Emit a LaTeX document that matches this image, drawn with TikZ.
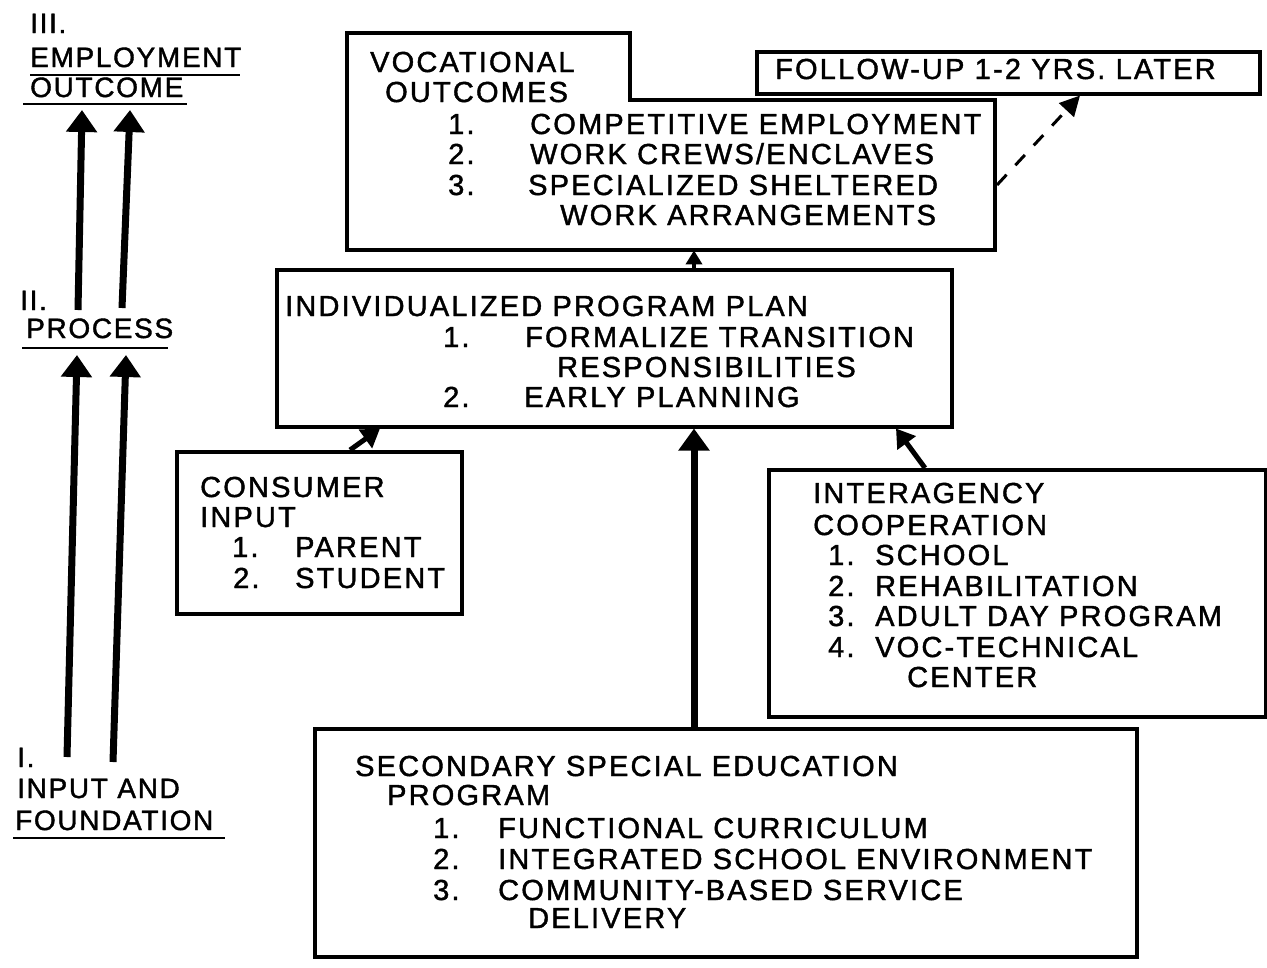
\documentclass[tikz,border=0pt]{standalone}
\usepackage{fontspec}
\newfontfamily\dfont[LetterSpace=7.5,FakeBold=1.4]{Liberation Sans}
\newfontfamily\lfont[LetterSpace=6,FakeBold=1.4]{Liberation Sans}
\usetikzlibrary{arrows.meta}
\begin{document}
\begin{tikzpicture}[x=1pt,y=-1pt,
  txt/.style={anchor=base west, inner sep=0pt, font=\dfont\fontsize{29}{32}\selectfont},
  lbl/.style={anchor=base west, inner sep=0pt, font=\lfont\fontsize{28}{30}\selectfont},
  box/.style={draw, line width=3.5pt, inner sep=0pt, anchor=north west},
  area/.style={inner sep=0pt, anchor=north west},
  uline/.style={line width=2.5pt},
  bigarrow/.style={line width=7pt, -{Triangle[width=30pt,length=22pt]}},
  midarrow/.style={line width=5pt, -{Triangle[width=22pt,length=18pt]}},
  smallarrow/.style={line width=4pt, -{Triangle[width=16pt,length=14pt]}},
  dasharrow/.style={line width=3pt, dash pattern=on 14pt off 13pt, -{Triangle[width=20pt,length=20pt]}}
]
\useasboundingbox (0,0) rectangle (1267,967);
\fill[white] (0,0) rectangle (1267,967);

% ---- left column labels ----
\node[lbl] (l3) at (30,33) {III.};
\node[lbl] (l3a) at (30,67) {EMPLOYMENT};
\node[lbl] (l3b) at (30,97) {OUTCOME};
\draw[uline] (30,75) -- (240,75);
\draw[uline] (23,104) -- (187,104);

\node[lbl] (l2) at (20,310) {II.};
\node[lbl] (l2a) at (26,338) {PROCESS};
\draw[uline] (22,348) -- (168,348);

\node[lbl] (l1) at (17,767) {I.};
\node[lbl] (l1a) at (17,798) {INPUT AND};
\node[lbl] (l1b) at (15,830) {FOUNDATION};
\draw[uline] (13,838) -- (225,838);

\coordinate (a1s) at (78,310);  \coordinate (a1e) at (82,110);
\coordinate (a2s) at (122,308); \coordinate (a2e) at (130,110);
\coordinate (a3s) at (67,757);  \coordinate (a3e) at (77,355);
\coordinate (a4s) at (113,762); \coordinate (a4e) at (126,355);
\draw[bigarrow] (a1s) -- (a1e);
\draw[bigarrow] (a2s) -- (a2e);
\draw[bigarrow] (a3s) -- (a3e);
\draw[bigarrow] (a4s) -- (a4e);

% ---- vocational outcomes (notched box) ----
\node[area, minimum width=648pt, minimum height=217pt] (voc) at (347,33) {};
\draw[line width=3.5pt] (347,33) -- (630,33) -- (630,100) -- (995,100)
  -- (995,250) -- (347,250) -- cycle;
\node[txt] at (370,72) {VOCATIONAL};
\node[txt] at (385,102) {OUTCOMES};
\node[txt] at (448,134) {1.};
\node[txt] at (530,134) {COMPETITIVE EMPLOYMENT};
\node[txt] at (448,164) {2.};
\node[txt] at (530,164) {WORK CREWS/ENCLAVES};
\node[txt] at (448,195) {3.};
\node[txt] at (528,195) {SPECIALIZED SHELTERED};
\node[txt] at (560,225) {WORK ARRANGEMENTS};

% ---- follow-up ----
\node[box, minimum width=503pt, minimum height=42pt] (follow) at (755,50) {};
\node[txt] at (775,79) {FOLLOW-UP 1-2 YRS. LATER};

% ---- individualized program plan ----
\node[box, minimum width=675pt, minimum height=157pt] (ipp) at (275,268) {};
\node[txt] at (285,316) {INDIVIDUALIZED PROGRAM PLAN};
\node[txt] at (443,347) {1.};
\node[txt] at (525,347) {FORMALIZE TRANSITION};
\node[txt] at (557,377) {RESPONSIBILITIES};
\node[txt] at (443,407) {2.};
\node[txt] at (524,407) {EARLY PLANNING};

% ---- consumer input ----
\node[box, minimum width=285pt, minimum height=162pt] (cons) at (175,450) {};
\node[txt] at (200,497) {CONSUMER};
\node[txt] at (200,527) {INPUT};
\node[txt] at (232,557) {1.};
\node[txt] at (295,557) {PARENT};
\node[txt] at (233,588) {2.};
\node[txt] at (295,588) {STUDENT};

% ---- interagency cooperation ----
\node[box, minimum width=497pt, minimum height=247pt] (inter) at (767,468) {};
\node[txt] at (813,503) {INTERAGENCY};
\node[txt] at (813,535) {COOPERATION};
\node[txt] at (828,565) {1.};
\node[txt] at (875,565) {SCHOOL};
\node[txt] at (828,596) {2.};
\node[txt] at (875,596) {REHABILITATION};
\node[txt] at (828,626) {3.};
\node[txt] at (875,626) {ADULT DAY PROGRAM};
\node[txt] at (828,657) {4.};
\node[txt] at (875,657) {VOC-TECHNICAL};
\node[txt] at (907,687) {CENTER};

% ---- secondary special education ----
\node[box, minimum width=822pt, minimum height=228pt] (sec) at (313,727) {};
\node[txt] at (355,776) {SECONDARY SPECIAL EDUCATION};
\node[txt] at (387,805) {PROGRAM};
\node[txt] at (433,838) {1.};
\node[txt] at (498,838) {FUNCTIONAL CURRICULUM};
\node[txt] at (433,869) {2.};
\node[txt] at (498,869) {INTEGRATED SCHOOL ENVIRONMENT};
\node[txt] at (433,900) {3.};
\node[txt] at (498,900) {COMMUNITY-BASED SERVICE};
\node[txt] at (528,928) {DELIVERY};

% ---- connectors ----
\coordinate (cx) at (694,0);
\coordinate (c1) at (350,0);
\coordinate (c2) at (380,0);
\coordinate (i1) at (925,0);
\coordinate (i2) at (896,0);
\coordinate (d1) at (997,185);
\coordinate (d2) at (1080,0);
\draw[bigarrow] (sec.north -| cx) -- (ipp.south -| cx);
\draw[smallarrow] (ipp.north -| cx) -- (voc.south -| cx);
\draw[midarrow] (cons.north -| c1) -- (ipp.south -| c2);
\draw[midarrow] (inter.north -| i1) -- (ipp.south -| i2);
\draw[dasharrow] (d1) -- (follow.south -| d2);
\end{tikzpicture}
\end{document}
